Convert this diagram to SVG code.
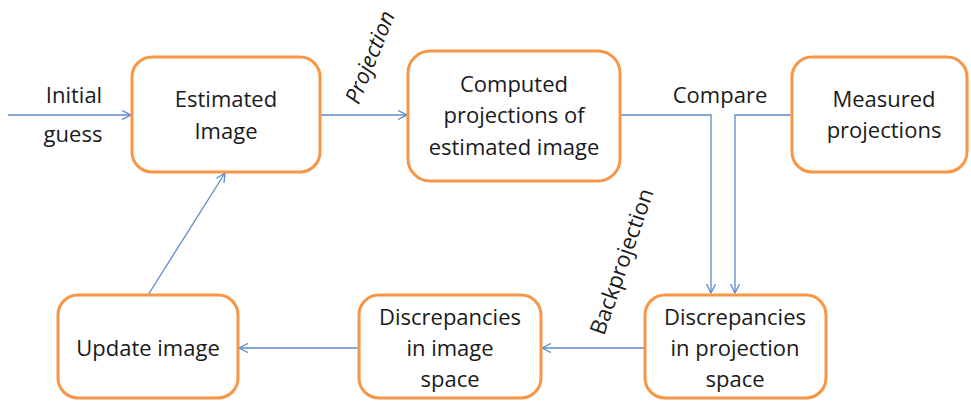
<svg xmlns="http://www.w3.org/2000/svg" width="971" height="405" viewBox="0 0 971 405">
<defs>
<marker id="arr" viewBox="0 0 10 10" refX="9.5" refY="5" markerWidth="10" markerHeight="10" markerUnits="userSpaceOnUse" orient="auto">
<path d="M0.5,0.5 L9.5,5 L0.5,9.5" fill="none" stroke="#5B8BCB" stroke-width="1.3"/>
</marker>
<style>
.box{fill:#FFFFFF;stroke:#F79646;stroke-width:3}
.t{font-family:"Open Sans","Noto Sans","Liberation Sans",sans-serif;font-size:22px;fill:#1A1A1A;text-anchor:middle}
.c{fill:none;stroke:#5B8BCB;stroke-width:1.3}
</style>
</defs>
<rect width="971" height="405" fill="#FFFFFF"/>
<g id="connectors">
<path class="c" d="M8,115 H131" marker-end="url(#arr)"/>
<path class="c" d="M320,115 H407" marker-end="url(#arr)"/>
<path class="c" d="M620,115 H711 V293" marker-end="url(#arr)"/>
<path class="c" d="M792,115 H735 V293" marker-end="url(#arr)"/>
<path class="c" d="M645,348 H542" marker-end="url(#arr)"/>
<path class="c" d="M359,348 H239" marker-end="url(#arr)"/>
<path class="c" d="M148,295 L225,173" marker-end="url(#arr)"/>
<text class="t" x="74" y="103">Initial</text>
<text class="t" x="73" y="142">guess</text>
<text class="t" x="377" y="60" font-style="italic" transform="rotate(-68 377 60)">Projection</text>
<text class="t" x="720" y="103">Compare</text>
<text class="t" x="629" y="264" transform="rotate(-71 629 264)">Backprojection</text>
</g>
<g id="estimated">
<rect class="box" x="132" y="57" width="188" height="115" rx="20"/>
<text class="t" x="226" y="107">Estimated</text>
<text class="t" x="226" y="139">Image</text>
</g>
<g id="computed">
<rect class="box" x="408" y="51" width="212" height="130" rx="22"/>
<text class="t" x="514" y="92">Computed</text>
<text class="t" x="514" y="123">projections of</text>
<text class="t" x="514" y="155">estimated image</text>
</g>
<g id="measured">
<rect class="box" x="792" y="57" width="175" height="115" rx="20"/>
<text class="t" x="884" y="107">Measured</text>
<text class="t" x="884" y="138">projections</text>
</g>
<g id="disc-proj">
<rect class="box" x="645" y="295" width="181" height="103" rx="20"/>
<text class="t" x="735" y="325">Discrepancies</text>
<text class="t" x="735" y="356">in projection</text>
<text class="t" x="735" y="387">space</text>
</g>
<g id="disc-img">
<rect class="box" x="359" y="295" width="182" height="103" rx="20"/>
<text class="t" x="450" y="325">Discrepancies</text>
<text class="t" x="450" y="356">in image</text>
<text class="t" x="450" y="387">space</text>
</g>
<g id="update">
<rect class="box" x="58" y="295" width="180" height="103" rx="20"/>
<text class="t" x="148" y="356">Update image</text>
</g>
</svg>
